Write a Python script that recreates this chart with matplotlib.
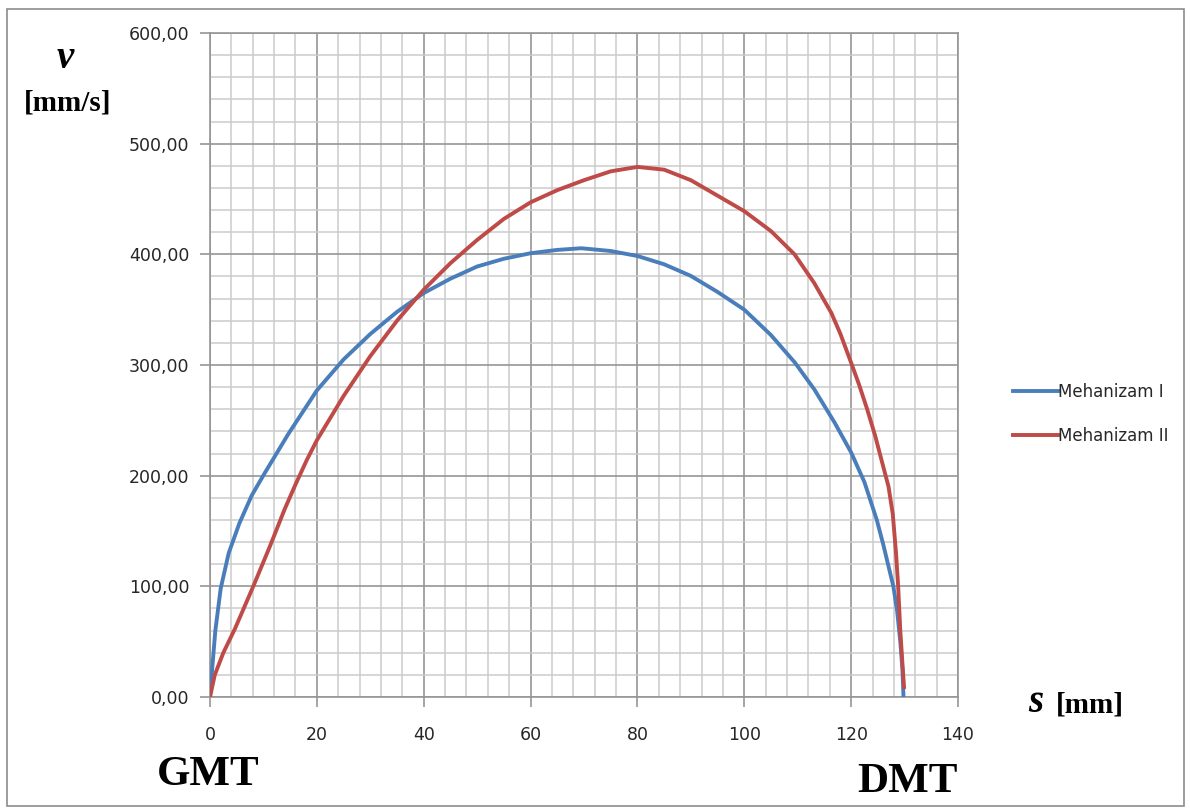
import matplotlib.pyplot as plt
import matplotlib.patches as patches
from matplotlib.ticker import MultipleLocator, FuncFormatter

# Mehanizam I
s1 = [0, 0.4, 1.0, 2.0, 3.5, 5.5, 7.8, 10.2, 14.7, 20, 25, 30, 35, 40, 45, 50, 55, 60, 65,
      69.5, 75, 80, 85, 90, 95, 100, 105, 109.5, 113.1, 116.9, 120, 122.5, 124.8, 126,
      127, 127.9, 128.6, 129.2, 129.6, 129.8]
v1 = [0, 25, 60, 98, 130, 157, 182, 202, 238, 277, 305, 328, 348, 365, 378, 389, 396, 401, 404,
      405.5, 403, 398.5, 391, 380.5, 366, 350, 327, 302, 278, 248, 221, 194, 160, 138,
      118, 100, 78, 50, 25, 0]

# Mehanizam II
s2 = [0, 0.9, 2.5, 4.7, 8.1, 11.2, 14, 16, 18.1, 20, 25, 30, 35, 40, 45, 50, 55, 60, 65, 70,
      75, 80, 85, 90, 95, 100, 105, 109.4, 113.1, 116.3, 118, 120, 121.5, 123, 124.5, 125.8,
      127, 127.8, 128.4, 128.8, 129.2, 129.6, 129.9]
v2 = [0, 20, 40, 62, 100, 136, 170, 192, 214, 232, 272, 308, 340, 368, 392, 413, 432, 447, 458,
      467, 475, 479, 476.5, 467, 453, 439, 421, 400, 374, 347, 328, 302, 282, 260, 236, 212,
      190, 165, 130, 100, 60, 30, 9]

labels = ["Mehanizam I", "Mehanizam II"]
c_blue = "#4A7EBB"
c_red = "#BE4B48"

fig = plt.figure(figsize=(11.9, 8.11), dpi=100)
ax = fig.add_axes([210/1190, 1-697/811, (958-210)/1190, (697-33)/811])

ax.plot(s1, v1, color=c_blue, lw=2.8, label=labels[0], solid_joinstyle='round', zorder=3)
ax.plot(s2, v2, color=c_red, lw=2.8, label=labels[1], solid_joinstyle='round', zorder=3)

ax.set_xlim(0, 140)
ax.set_ylim(0, 600)
ax.xaxis.set_major_locator(MultipleLocator(20))
ax.xaxis.set_minor_locator(MultipleLocator(4))
ax.yaxis.set_major_locator(MultipleLocator(100))
ax.yaxis.set_minor_locator(MultipleLocator(20))
ax.yaxis.set_major_formatter(FuncFormatter(lambda v, p: f"{v:.2f}".replace(".", ",")))

ax.grid(which='minor', color='#cccccc', lw=1.1)
ax.grid(which='major', color='#969696', lw=1.2)
ax.set_axisbelow(True)
for sp in ax.spines.values():
    sp.set_color('#969696')
    sp.set_linewidth(1.2)

ax.tick_params(which='major', length=7, width=1.2, color='#969696',
               labelsize=12.5, labelcolor='#262626')
ax.tick_params(axis='x', which='major', pad=14)
ax.tick_params(axis='y', which='major', pad=8)
ax.tick_params(which='minor', length=0)
for lab in ax.get_xticklabels() + ax.get_yticklabels():
    lab.set_fontfamily('DejaVu Sans')

leg = ax.legend(loc='center left', bbox_to_anchor=(1006/1190, 1-414/811),
                bbox_transform=fig.transFigure, frameon=False,
                prop={'family': 'DejaVu Sans', 'size': 12}, handlelength=2.7,
                handletextpad=0.05, labelspacing=1.55, borderaxespad=0)
for t in leg.get_texts():
    t.set_color('#262626')

serif = 'Liberation Serif'
fig.text(65/1190, 1-58/811, "v", fontsize=28, fontweight='bold', fontstyle='italic',
         family=serif, ha='center', va='center')
fig.text(68/1190, 1-103/811, "[mm/s]", fontsize=21, fontweight='bold',
         family=serif, ha='center', va='center')
fig.text(1036/1190, 1-702/811, "s", fontsize=28, fontweight='bold', fontstyle='italic',
         family=serif, ha='center', va='center')
fig.text(1090/1190, 1-705/811, "[mm]", fontsize=21, fontweight='bold',
         family=serif, ha='center', va='center')
fig.text(208/1190, 1-775/811, "GMT", fontsize=31, fontweight='bold',
         family=serif, ha='center', va='center')
fig.text(907/1190, 1-782/811, "DMT", fontsize=31, fontweight='bold',
         family=serif, ha='center', va='center')

# outer chart border
fig.patches.append(patches.Rectangle((7/1190, 1-806/811), (1184-7)/1190, (806-9)/811,
                                     transform=fig.transFigure, fill=False,
                                     edgecolor='#8c8c8c', lw=1.2))

fig.savefig('out.png', dpi=100)
